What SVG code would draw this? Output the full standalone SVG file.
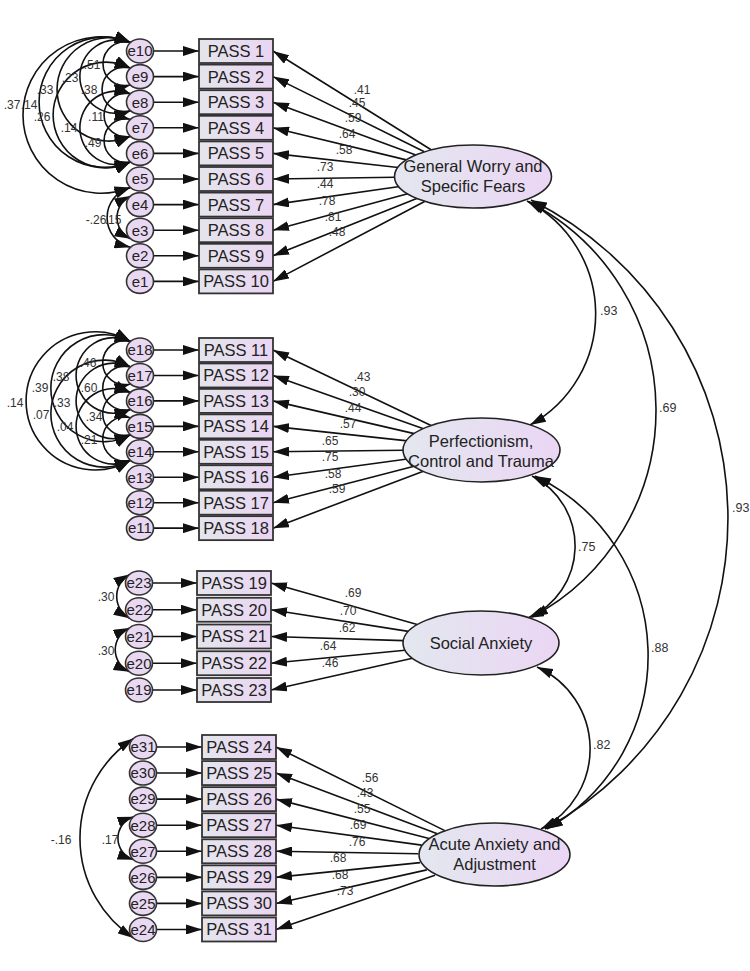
<svg xmlns="http://www.w3.org/2000/svg" width="750" height="971" viewBox="0 0 750 971">
<defs>
<linearGradient id="gl" x1="0" y1="0" x2="1" y2="0"><stop offset="0" stop-color="#e3e7ef"/><stop offset="1" stop-color="#ebd6f4"/></linearGradient>
<linearGradient id="gb" x1="0" y1="0" x2="1" y2="0"><stop offset="0" stop-color="#e4e5ec"/><stop offset="1" stop-color="#ead5f2"/></linearGradient>
<marker id="ah" viewBox="0 0 16 10" refX="16" refY="5" markerWidth="16" markerHeight="10" markerUnits="userSpaceOnUse" orient="auto-start-reverse"><path d="M0,0 L16,5 L0,10 z" fill="#111"/></marker>
<style>
.c{fill:none;stroke:#111;stroke-width:1.6;marker-end:url(#ah)}
.d{fill:none;stroke:#111;stroke-width:1.6;marker-start:url(#ah);marker-end:url(#ah)}
.box{fill:url(#gb);stroke:#333;stroke-width:1.8}
.err{fill:#e9d8f1;stroke:#333;stroke-width:1.6}
.lat{fill:url(#gl);stroke:#222;stroke-width:1.6}
.bt{font-family:"Liberation Sans",Arial,sans-serif;font-size:16.5px;fill:#222;text-anchor:middle}
.et{font-family:"Liberation Sans",Arial,sans-serif;font-size:15px;fill:#222;text-anchor:middle}
.lt{font-family:"Liberation Sans",Arial,sans-serif;font-size:16.5px;fill:#222;text-anchor:middle}
.n{font-family:"Liberation Sans",Arial,sans-serif;font-size:12px;fill:#333;text-anchor:middle}
.s{font-family:"Liberation Sans",Arial,sans-serif;font-size:12.5px;fill:#333}
</style>
</defs>
<rect width="750" height="971" fill="#fff"/>
<g id="connectors">
<!-- error to indicator -->
<path class="c" d="M153.5,51 L199,51"/><path class="c" d="M153.5,76.6 L199,76.6"/><path class="c" d="M153.5,102.2 L199,102.2"/><path class="c" d="M153.5,127.8 L199,127.8"/><path class="c" d="M153.5,153.4 L199,153.4"/><path class="c" d="M153.5,179 L199,179"/><path class="c" d="M153.5,204.6 L199,204.6"/><path class="c" d="M153.5,230.2 L199,230.2"/><path class="c" d="M153.5,255.8 L199,255.8"/><path class="c" d="M153.5,281.4 L199,281.4"/>
<path class="c" d="M153.5,350 L199,350"/><path class="c" d="M153.5,375.45 L199,375.45"/><path class="c" d="M153.5,400.9 L199,400.9"/><path class="c" d="M153.5,426.35 L199,426.35"/><path class="c" d="M153.5,451.8 L199,451.8"/><path class="c" d="M153.5,477.25 L199,477.25"/><path class="c" d="M153.5,502.7 L199,502.7"/><path class="c" d="M153.5,528.15 L199,528.15"/>
<path class="c" d="M152.5,583 L197,583"/><path class="c" d="M152.5,609.75 L197,609.75"/><path class="c" d="M152.5,636.5 L197,636.5"/><path class="c" d="M152.5,663.25 L197,663.25"/><path class="c" d="M152.5,690 L197,690"/>
<path class="c" d="M156.5,747 L202,747"/><path class="c" d="M156.5,773.07 L202,773.07"/><path class="c" d="M156.5,799.14 L202,799.14"/><path class="c" d="M156.5,825.21 L202,825.21"/><path class="c" d="M156.5,851.28 L202,851.28"/><path class="c" d="M156.5,877.35 L202,877.35"/><path class="c" d="M156.5,903.42 L202,903.42"/><path class="c" d="M156.5,929.49 L202,929.49"/>
<!-- loadings GW -->
<path class="c" d="M431.1,149.8 L273,51"/><path class="c" d="M424.3,151.8 L273,76.6"/><path class="c" d="M415.8,154.9 L273,102.2"/><path class="c" d="M406.3,159.9 L273,127.8"/><path class="c" d="M398,167.5 L273,153.4"/><path class="c" d="M395.1,177.2 L273,179"/><path class="c" d="M399.6,186.5 L273,204.6"/><path class="c" d="M408.6,193.5 L273,230.2"/><path class="c" d="M418,198 L273,255.8"/><path class="c" d="M426,200.7 L273,281.4"/>
<!-- loadings PCT -->
<path class="c" d="M432.1,426 L273,350"/><path class="c" d="M424.2,429.1 L273,375.45"/><path class="c" d="M415.3,433.9 L273,400.9"/><path class="c" d="M407.4,440.9 L273,426.35"/><path class="c" d="M403.5,450.3 L273,451.8"/><path class="c" d="M407.3,459 L273,477.25"/><path class="c" d="M415.1,466.1 L273,502.7"/><path class="c" d="M424,470.9 L273,528.15"/>
<!-- loadings SA -->
<path class="c" d="M417.2,624.6 L271,583"/><path class="c" d="M408.3,631.4 L271,609.75"/><path class="c" d="M403.2,640.6 L271,636.5"/><path class="c" d="M405,650.2 L271,663.25"/><path class="c" d="M412.5,658.3 L271,690"/>
<!-- loadings AA -->
<path class="c" d="M444.8,830.6 L276,747"/><path class="c" d="M437.3,833.7 L276,773.07"/><path class="c" d="M429.1,838.4 L276,799.14"/><path class="c" d="M421.7,845.1 L276,825.21"/><path class="c" d="M418.1,853.7 L276,851.28"/><path class="c" d="M420.2,862.6 L276,877.35"/><path class="c" d="M426.8,869.9 L276,903.42"/><path class="c" d="M435,875.2 L276,929.49"/>
<!-- error covariances top -->
<path class="d" d="M130.5,42.5 A22,22 0 1 0 130.5,85.1"/>
<path class="d" d="M130.5,68.1 A22.2,22.2 0 1 0 130.5,110.7"/>
<path class="d" d="M130.5,93.7 A21.8,21.8 0 1 0 130.5,136.3"/>
<path class="d" d="M130.5,119.3 A21.8,21.8 0 1 0 130.5,161.9"/>
<path class="d" d="M130.5,42.5 A36.8,36.8 0 1 0 130.5,110.7"/>
<path class="d" d="M130.5,93.7 A36.8,36.8 0 1 0 130.5,161.9"/>
<path class="d" d="M130.5,42.5 A51.7,51.7 0 1 0 130.5,136.3"/>
<path class="d" d="M130.5,68.1 A52.9,52.9 0 1 0 130.5,161.9"/>
<path class="d" d="M130.5,42.5 A65.2,65.2 0 1 0 130.5,161.9"/>
<path class="d" d="M130.5,42.5 A78.2,78.2 0 1 0 130.5,187.5"/>
<path class="d" d="M130.5,187.5 A30.8,30.8 0 0 0 130.5,247.3"/>
<path class="d" d="M130.5,196.1 A23.6,23.6 0 0 0 130.5,238.7"/>
<!-- error covariances middle -->
<path class="d" d="M130.5,341.5 A22,22 0 1 0 130.5,383.95"/>
<path class="d" d="M130.5,366.95 A22,22 0 1 0 130.5,409.4"/>
<path class="d" d="M130.5,392.4 A22,22 0 1 0 130.5,434.85"/>
<path class="d" d="M130.5,417.85 A22,22 0 1 0 130.5,460.3"/>
<path class="d" d="M130.5,341.5 A37.8,37.8 0 1 0 130.5,409.4"/>
<path class="d" d="M130.5,366.95 A37.8,37.8 0 1 0 130.5,434.85"/>
<path class="d" d="M130.5,392.4 A37.8,37.8 0 1 0 130.5,460.3"/>
<path class="d" d="M130.5,341.5 A53.5,53.5 0 1 0 130.5,434.85"/>
<path class="d" d="M130.5,366.95 A53.5,53.5 0 1 0 130.5,460.3"/>
<path class="d" d="M130.5,341.5 A69.1,69.1 0 1 0 130.5,460.3"/>
<!-- error covariances social -->
<path class="d" d="M129.5,574.5 A25.1,25.1 0 0 0 129.5,618.25"/>
<path class="d" d="M129.5,628 A23.9,23.9 0 0 0 129.5,671.75"/>
<!-- error covariances acute -->
<path class="d" d="M133.5,816.7 A22.7,22.7 0 0 0 133.5,859.8"/>
<path class="d" d="M133.5,738.5 A119.7,119.7 0 0 0 133.5,938"/>
<!-- factor covariances -->
<path class="d" d="M527,201 A127,127 0 0 1 530,425"/>
<path class="d" d="M529,202 A234.3,234.3 0 0 1 532,617"/>
<path class="d" d="M531,200 A355.5,355.5 0 0 1 545,829"/>
<path class="d" d="M532,476 A78.5,78.5 0 0 1 528,618"/>
<path class="d" d="M535,476 A199.2,199.2 0 0 1 547,829"/>
<path class="d" d="M537,667 A89.8,89.8 0 0 1 541,829"/>
</g>
<g id="e10"><ellipse class="err" cx="140" cy="51" rx="13.5" ry="12"/><text class="et" x="140" y="56.3">e10</text></g>
<g id="e9"><ellipse class="err" cx="140" cy="76.6" rx="13.5" ry="12"/><text class="et" x="140" y="81.9">e9</text></g>
<g id="e8"><ellipse class="err" cx="140" cy="102.2" rx="13.5" ry="12"/><text class="et" x="140" y="107.5">e8</text></g>
<g id="e7"><ellipse class="err" cx="140" cy="127.8" rx="13.5" ry="12"/><text class="et" x="140" y="133.1">e7</text></g>
<g id="e6"><ellipse class="err" cx="140" cy="153.4" rx="13.5" ry="12"/><text class="et" x="140" y="158.7">e6</text></g>
<g id="e5"><ellipse class="err" cx="140" cy="179" rx="13.5" ry="12"/><text class="et" x="140" y="184.3">e5</text></g>
<g id="e4"><ellipse class="err" cx="140" cy="204.6" rx="13.5" ry="12"/><text class="et" x="140" y="209.9">e4</text></g>
<g id="e3"><ellipse class="err" cx="140" cy="230.2" rx="13.5" ry="12"/><text class="et" x="140" y="235.5">e3</text></g>
<g id="e2"><ellipse class="err" cx="140" cy="255.8" rx="13.5" ry="12"/><text class="et" x="140" y="261.1">e2</text></g>
<g id="e1"><ellipse class="err" cx="140" cy="281.4" rx="13.5" ry="12"/><text class="et" x="140" y="286.7">e1</text></g>
<g id="e18"><ellipse class="err" cx="140" cy="350" rx="13.5" ry="12"/><text class="et" x="140" y="355.3">e18</text></g>
<g id="e17"><ellipse class="err" cx="140" cy="375.45" rx="13.5" ry="12"/><text class="et" x="140" y="380.75">e17</text></g>
<g id="e16"><ellipse class="err" cx="140" cy="400.9" rx="13.5" ry="12"/><text class="et" x="140" y="406.2">e16</text></g>
<g id="e15"><ellipse class="err" cx="140" cy="426.35" rx="13.5" ry="12"/><text class="et" x="140" y="431.65">e15</text></g>
<g id="e14"><ellipse class="err" cx="140" cy="451.8" rx="13.5" ry="12"/><text class="et" x="140" y="457.1">e14</text></g>
<g id="e13"><ellipse class="err" cx="140" cy="477.25" rx="13.5" ry="12"/><text class="et" x="140" y="482.55">e13</text></g>
<g id="e12"><ellipse class="err" cx="140" cy="502.7" rx="13.5" ry="12"/><text class="et" x="140" y="508">e12</text></g>
<g id="e11"><ellipse class="err" cx="140" cy="528.15" rx="13.5" ry="12"/><text class="et" x="140" y="533.45">e11</text></g>
<g id="e23"><ellipse class="err" cx="139" cy="583" rx="13.5" ry="12"/><text class="et" x="139" y="588.3">e23</text></g>
<g id="e22"><ellipse class="err" cx="139" cy="609.75" rx="13.5" ry="12"/><text class="et" x="139" y="615.05">e22</text></g>
<g id="e21"><ellipse class="err" cx="139" cy="636.5" rx="13.5" ry="12"/><text class="et" x="139" y="641.8">e21</text></g>
<g id="e20"><ellipse class="err" cx="139" cy="663.25" rx="13.5" ry="12"/><text class="et" x="139" y="668.55">e20</text></g>
<g id="e19"><ellipse class="err" cx="139" cy="690" rx="13.5" ry="12"/><text class="et" x="139" y="695.3">e19</text></g>
<g id="e31"><ellipse class="err" cx="143" cy="747" rx="13.5" ry="12"/><text class="et" x="143" y="752.3">e31</text></g>
<g id="e30"><ellipse class="err" cx="143" cy="773.07" rx="13.5" ry="12"/><text class="et" x="143" y="778.37">e30</text></g>
<g id="e29"><ellipse class="err" cx="143" cy="799.14" rx="13.5" ry="12"/><text class="et" x="143" y="804.44">e29</text></g>
<g id="e28"><ellipse class="err" cx="143" cy="825.21" rx="13.5" ry="12"/><text class="et" x="143" y="830.51">e28</text></g>
<g id="e27"><ellipse class="err" cx="143" cy="851.28" rx="13.5" ry="12"/><text class="et" x="143" y="856.58">e27</text></g>
<g id="e26"><ellipse class="err" cx="143" cy="877.35" rx="13.5" ry="12"/><text class="et" x="143" y="882.65">e26</text></g>
<g id="e25"><ellipse class="err" cx="143" cy="903.42" rx="13.5" ry="12"/><text class="et" x="143" y="908.72">e25</text></g>
<g id="e24"><ellipse class="err" cx="143" cy="929.49" rx="13.5" ry="12"/><text class="et" x="143" y="934.79">e24</text></g>
<g id="pass1"><rect class="box" x="199" y="39" width="74" height="24"/><text class="bt" x="236" y="56.9">PASS 1</text></g>
<g id="pass2"><rect class="box" x="199" y="64.6" width="74" height="24"/><text class="bt" x="236" y="82.5">PASS 2</text></g>
<g id="pass3"><rect class="box" x="199" y="90.2" width="74" height="24"/><text class="bt" x="236" y="108.1">PASS 3</text></g>
<g id="pass4"><rect class="box" x="199" y="115.8" width="74" height="24"/><text class="bt" x="236" y="133.7">PASS 4</text></g>
<g id="pass5"><rect class="box" x="199" y="141.4" width="74" height="24"/><text class="bt" x="236" y="159.3">PASS 5</text></g>
<g id="pass6"><rect class="box" x="199" y="167" width="74" height="24"/><text class="bt" x="236" y="184.9">PASS 6</text></g>
<g id="pass7"><rect class="box" x="199" y="192.6" width="74" height="24"/><text class="bt" x="236" y="210.5">PASS 7</text></g>
<g id="pass8"><rect class="box" x="199" y="218.2" width="74" height="24"/><text class="bt" x="236" y="236.1">PASS 8</text></g>
<g id="pass9"><rect class="box" x="199" y="243.8" width="74" height="24"/><text class="bt" x="236" y="261.7">PASS 9</text></g>
<g id="pass10"><rect class="box" x="199" y="269.4" width="74" height="24"/><text class="bt" x="236" y="287.3">PASS 10</text></g>
<g id="pass11"><rect class="box" x="199" y="338" width="74" height="24"/><text class="bt" x="236" y="355.9">PASS 11</text></g>
<g id="pass12"><rect class="box" x="199" y="363.45" width="74" height="24"/><text class="bt" x="236" y="381.35">PASS 12</text></g>
<g id="pass13"><rect class="box" x="199" y="388.9" width="74" height="24"/><text class="bt" x="236" y="406.8">PASS 13</text></g>
<g id="pass14"><rect class="box" x="199" y="414.35" width="74" height="24"/><text class="bt" x="236" y="432.25">PASS 14</text></g>
<g id="pass15"><rect class="box" x="199" y="439.8" width="74" height="24"/><text class="bt" x="236" y="457.7">PASS 15</text></g>
<g id="pass16"><rect class="box" x="199" y="465.25" width="74" height="24"/><text class="bt" x="236" y="483.15">PASS 16</text></g>
<g id="pass17"><rect class="box" x="199" y="490.7" width="74" height="24"/><text class="bt" x="236" y="508.6">PASS 17</text></g>
<g id="pass18"><rect class="box" x="199" y="516.15" width="74" height="24"/><text class="bt" x="236" y="534.05">PASS 18</text></g>
<g id="pass19"><rect class="box" x="197" y="571" width="74" height="24"/><text class="bt" x="234" y="588.9">PASS 19</text></g>
<g id="pass20"><rect class="box" x="197" y="597.75" width="74" height="24"/><text class="bt" x="234" y="615.65">PASS 20</text></g>
<g id="pass21"><rect class="box" x="197" y="624.5" width="74" height="24"/><text class="bt" x="234" y="642.4">PASS 21</text></g>
<g id="pass22"><rect class="box" x="197" y="651.25" width="74" height="24"/><text class="bt" x="234" y="669.15">PASS 22</text></g>
<g id="pass23"><rect class="box" x="197" y="678" width="74" height="24"/><text class="bt" x="234" y="695.9">PASS 23</text></g>
<g id="pass24"><rect class="box" x="202" y="735" width="74" height="24"/><text class="bt" x="239" y="752.9">PASS 24</text></g>
<g id="pass25"><rect class="box" x="202" y="761.07" width="74" height="24"/><text class="bt" x="239" y="778.97">PASS 25</text></g>
<g id="pass26"><rect class="box" x="202" y="787.14" width="74" height="24"/><text class="bt" x="239" y="805.04">PASS 26</text></g>
<g id="pass27"><rect class="box" x="202" y="813.21" width="74" height="24"/><text class="bt" x="239" y="831.11">PASS 27</text></g>
<g id="pass28"><rect class="box" x="202" y="839.28" width="74" height="24"/><text class="bt" x="239" y="857.18">PASS 28</text></g>
<g id="pass29"><rect class="box" x="202" y="865.35" width="74" height="24"/><text class="bt" x="239" y="883.25">PASS 29</text></g>
<g id="pass30"><rect class="box" x="202" y="891.42" width="74" height="24"/><text class="bt" x="239" y="909.32">PASS 30</text></g>
<g id="pass31"><rect class="box" x="202" y="917.49" width="74" height="24"/><text class="bt" x="239" y="935.39">PASS 31</text></g>
<g id="gw"><ellipse class="lat" cx="473" cy="176.5" rx="78.5" ry="31.5"/><text class="lt" x="473" y="172">General Worry and</text><text class="lt" x="473" y="192">Specific Fears</text></g>
<g id="pct"><ellipse class="lat" cx="481.5" cy="450" rx="78.5" ry="32"/><text class="lt" x="481" y="447">Perfectionism,</text><text class="lt" x="481" y="467">Control and Trauma</text></g>
<g id="sa"><ellipse class="lat" cx="481" cy="643" rx="78" ry="32"/><text class="lt" x="481" y="649">Social Anxiety</text></g>
<g id="aa"><ellipse class="lat" cx="494.5" cy="854.5" rx="75.5" ry="31.5"/><text class="lt" x="494.5" y="850">Acute Anxiety and</text><text class="lt" x="494.5" y="870">Adjustment</text></g>
<g id="labels">
<text class="n" x="362" y="94">.41</text><text class="n" x="357" y="107">.45</text><text class="n" x="353" y="122">.59</text><text class="n" x="347" y="138">.64</text><text class="n" x="344" y="154">.58</text><text class="n" x="325" y="171">.73</text><text class="n" x="325" y="188">.44</text><text class="n" x="327" y="205">.78</text><text class="n" x="333" y="221">.81</text><text class="n" x="337" y="236">.48</text>
<text class="n" x="362" y="381">.43</text><text class="n" x="357" y="396">.30</text><text class="n" x="353" y="412">.44</text><text class="n" x="348" y="428">.57</text><text class="n" x="330" y="445">.65</text><text class="n" x="330" y="461">.75</text><text class="n" x="333" y="478">.58</text><text class="n" x="337" y="493">.59</text>
<text class="n" x="353" y="597">.69</text><text class="n" x="348" y="615">.70</text><text class="n" x="347" y="632">.62</text><text class="n" x="328" y="650">.64</text><text class="n" x="330" y="667">.46</text>
<text class="n" x="370" y="782">.56</text><text class="n" x="365" y="797">.43</text><text class="n" x="362" y="813">.55</text><text class="n" x="358" y="829">.69</text><text class="n" x="357" y="846">.76</text><text class="n" x="338" y="862">.68</text><text class="n" x="340" y="879">.68</text><text class="n" x="345" y="895">.73</text>
<text class="n" x="92" y="69">.51</text><text class="n" x="45" y="94">.33</text><text class="n" x="70" y="82">.23</text><text class="n" x="89" y="94">.38</text><text class="n" x="12" y="109">.37</text><text class="n" x="29" y="109">.14</text><text class="n" x="42" y="121">.26</text><text class="n" x="96" y="121">.11</text><text class="n" x="69" y="132">.14</text><text class="n" x="93" y="147">.49</text>
<text class="n" x="96" y="224">-.26</text><text class="n" x="113" y="224">.15</text>
<text class="n" x="88" y="367">.46</text><text class="n" x="61" y="381">.38</text><text class="n" x="40" y="392">.39</text><text class="n" x="89" y="392">.60</text><text class="n" x="15" y="407">.14</text><text class="n" x="62" y="407">.33</text><text class="n" x="41" y="419">.07</text><text class="n" x="94" y="421">.34</text><text class="n" x="65" y="431">.04</text><text class="n" x="89" y="444">.21</text>
<text class="n" x="106" y="601">.30</text><text class="n" x="106" y="655">.30</text>
<text class="n" x="110" y="844">.17</text><text class="n" x="61" y="844">-.16</text>
<text class="s" x="600" y="315">.93</text><text class="s" x="659" y="412">.69</text><text class="s" x="732" y="512">.93</text><text class="s" x="578" y="551">.75</text><text class="s" x="651" y="652">.88</text><text class="s" x="593" y="749">.82</text>
</g>
</svg>
